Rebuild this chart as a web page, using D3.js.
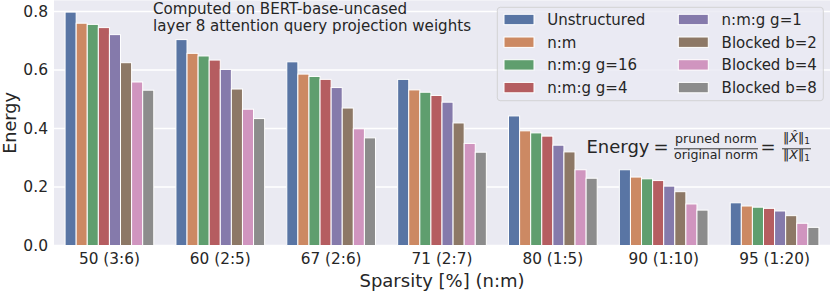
<!DOCTYPE html>
<html>
<head>
<meta charset="utf-8">
<script src="https://cdn.jsdelivr.net/npm/d3@7"></script>
<style>
  html, body { margin: 0; padding: 0; background: #fff; }
  svg { display: block; font-family: "DejaVu Sans", sans-serif; }
</style>
</head>
<body>
<svg id="chart" width="831" height="291"></svg>
<script>
// ---- data ----
const categories = ["50 (3:6)", "60 (2:5)", "67 (2:6)", "71 (2:7)", "80 (1:5)", "90 (1:10)", "95 (1:20)"];
const seriesNames = ["Unstructured", "n:m", "n:m:g g=16", "n:m:g g=4", "n:m:g g=1", "Blocked b=2", "Blocked b=4", "Blocked b=8"];
const unstructured = [0.798, 0.704, 0.628, 0.568, 0.443, 0.259, 0.146];
const nm           = [0.760, 0.657, 0.586, 0.532, 0.392, 0.234, 0.135];
const nmg16        = [0.756, 0.648, 0.578, 0.524, 0.385, 0.228, 0.131];
const nmg4         = [0.745, 0.634, 0.568, 0.513, 0.374, 0.222, 0.127];
const nmg1         = [0.721, 0.602, 0.540, 0.490, 0.343, 0.203, 0.118];
const blocked2     = [0.625, 0.535, 0.470, 0.419, 0.320, 0.184, 0.102];
const blocked4     = [0.559, 0.466, 0.399, 0.349, 0.259, 0.142, 0.076];
const blocked8     = [0.531, 0.434, 0.368, 0.319, 0.230, 0.121, 0.062];
const yTicks = [0.0, 0.2, 0.4, 0.6, 0.8];
const palette = ["#4C72B0", "#DD8452", "#55A868", "#C44E52", "#8172B3", "#937860", "#DA8BC3", "#8C8C8C"];

const seriesValues = [unstructured, nm, nmg16, nmg4, nmg1, blocked2, blocked4, blocked8];
const table = [];
seriesNames.forEach((s, i) => categories.forEach((c, j) => table.push({series: s, cat: c, value: seriesValues[i][j]})));

// desaturate like seaborn (saturation 0.75)
const colors = palette.map(c => { const h = d3.hsl(c); h.s *= 0.75; return h.formatHex(); });
const color = d3.scaleOrdinal().domain(seriesNames).range(colors);

const svg = d3.select("#chart");
const pLeft = 54, pRight = 830, pTop = 0.4, pBottom = 245.5;
const textColor = "#262626";

const x = d3.scaleBand().domain(categories).range([pLeft, pRight]).paddingInner(0.2).paddingOuter(0.1);
const xs = d3.scaleBand().domain(seriesNames).range([0, x.bandwidth()]).padding(0);
const y = d3.scaleLinear().domain([0, 0.838]).range([pBottom, pTop]);

// background
svg.append("rect").attr("x", pLeft).attr("y", pTop).attr("width", pRight - pLeft).attr("height", pBottom - pTop).attr("fill", "#EAEAF2");

// gridlines
svg.append("g").selectAll("line").data(yTicks).join("line")
  .attr("x1", pLeft).attr("x2", pRight)
  .attr("y1", d => y(d)).attr("y2", d => y(d))
  .attr("stroke", "#fff").attr("stroke-width", 1.3);

// bars
svg.append("g").selectAll("rect").data(table).join("rect")
  .attr("x", d => x(d.cat) + xs(d.series))
  .attr("width", xs.bandwidth())
  .attr("y", d => y(d.value))
  .attr("height", d => y(0) - y(d.value))
  .attr("fill", d => color(d.series))
  .attr("stroke", "#fff").attr("stroke-width", 1);

// y axis
const yAxis = svg.append("g").attr("transform", `translate(${pLeft},0)`)
  .call(d3.axisLeft(y).tickValues(yTicks).tickSize(0).tickPadding(6).tickFormat(d3.format(".1f")));
yAxis.select(".domain").remove();
yAxis.selectAll("text").attr("font-size", 15.5).attr("fill", textColor).attr("font-family", "DejaVu Sans");

// x axis
const xAxis = svg.append("g").attr("transform", `translate(0,${pBottom})`)
  .call(d3.axisBottom(x).tickSize(0));
xAxis.select(".domain").remove();
xAxis.selectAll("text").attr("y", 18.8).attr("dy", 0).attr("font-size", 15.3).attr("fill", textColor).attr("font-family", "DejaVu Sans");

// axis labels
svg.append("text").attr("x", (pLeft + pRight) / 2).attr("y", 286.5).attr("text-anchor", "middle")
  .attr("font-size", 18).attr("fill", textColor).text("Sparsity [%] (n:m)");
svg.append("text").attr("transform", `translate(16.3,${(pTop + pBottom) / 2}) rotate(-90)`).attr("text-anchor", "middle")
  .attr("font-size", 17.6).attr("fill", textColor).text("Energy");

// annotation
svg.append("text").attr("x", 153).attr("y", 13.9).attr("font-size", 15.1).attr("fill", textColor).text("Computed on BERT-base-uncased");
svg.append("text").attr("x", 153).attr("y", 31.3).attr("font-size", 15.1).attr("fill", textColor).text("layer 8 attention query projection weights");

// formula
const f = svg.append("g").attr("fill", textColor);
f.append("text").attr("x", 586.5).attr("y", 153.3).attr("font-size", 18).text("Energy");
f.append("text").attr("x", 653.5).attr("y", 153.3).attr("font-size", 18).text("=");
f.append("text").attr("x", 716).attr("y", 143.3).attr("font-size", 12.6).attr("text-anchor", "middle").text("pruned norm");
f.append("line").attr("x1", 674).attr("x2", 758).attr("y1", 148.8).attr("y2", 148.8).attr("stroke", textColor).attr("stroke-width", 0.9);
f.append("text").attr("x", 716).attr("y", 159.3).attr("font-size", 12.6).attr("text-anchor", "middle").text("original norm");
f.append("text").attr("x", 760.5).attr("y", 153.3).attr("font-size", 18).text("=");
const num = f.append("text").attr("x", 796.5).attr("y", 141.7).attr("font-size", 12.6).attr("text-anchor", "middle");
num.append("tspan").text("\u2016");
num.append("tspan").attr("font-style", "italic").text("X\u0302");
num.append("tspan").text("\u2016");
num.append("tspan").attr("font-size", 9).attr("dy", 2).text("1");
f.append("line").attr("x1", 782).attr("x2", 811).attr("y1", 148.8).attr("y2", 148.8).attr("stroke", textColor).attr("stroke-width", 0.9);
const den = f.append("text").attr("x", 796.5).attr("y", 159).attr("font-size", 12.6).attr("text-anchor", "middle");
den.append("tspan").text("\u2016");
den.append("tspan").attr("font-style", "italic").text("X");
den.append("tspan").text("\u2016");
den.append("tspan").attr("font-size", 9).attr("dy", 2).text("1");

// legend
const lg = svg.append("g");
lg.append("rect").attr("x", 497.3).attr("y", 7.3).attr("width", 326).attr("height", 93.4).attr("rx", 3)
  .attr("fill", "#EAEAF2").attr("fill-opacity", 0.8).attr("stroke", "#cccccc").attr("stroke-opacity", 0.8).attr("stroke-width", 1);
const items = lg.selectAll("g.item").data(seriesNames).join("g").attr("class", "item")
  .attr("transform", (d, i) => `translate(${i < 4 ? 504 : 678.3},${19.5 + (i % 4) * 22.7})`);
items.append("rect").attr("x", 0).attr("y", -5.2).attr("width", 30).attr("height", 10.4)
  .attr("fill", d => color(d)).attr("stroke", "#fff").attr("stroke-width", 1);
items.append("text").attr("x", 43.3).attr("y", 5.4).attr("font-size", 15).attr("fill", textColor).text(d => d);
</script>
</body>
</html>
